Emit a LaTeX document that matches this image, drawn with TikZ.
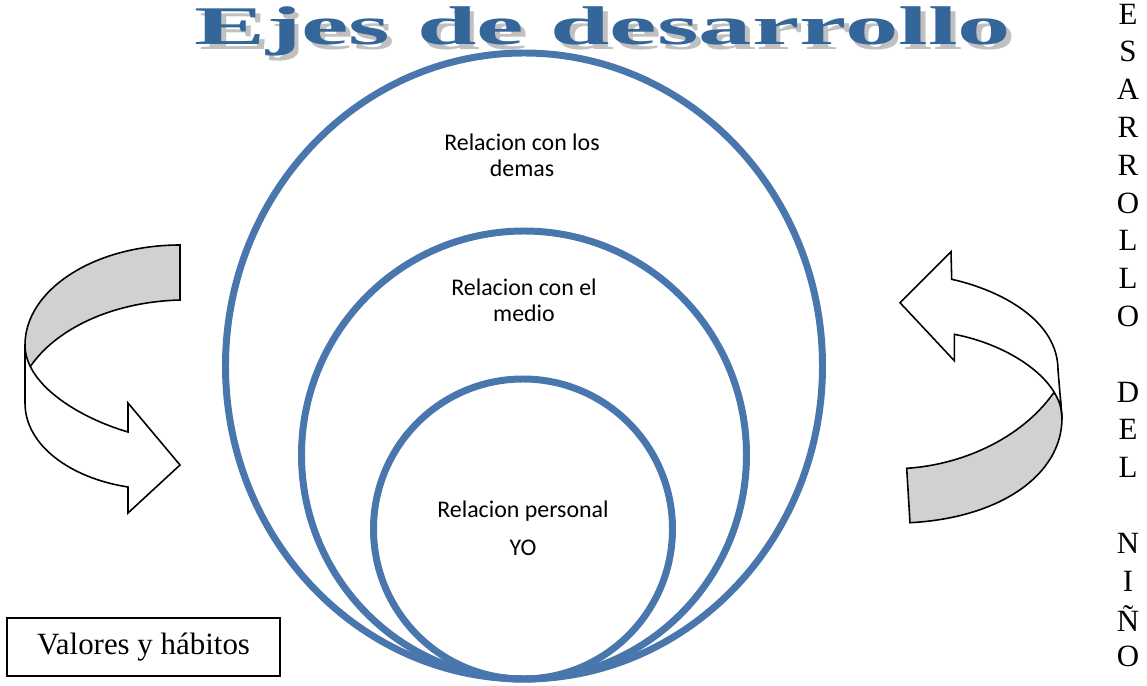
\documentclass[tikz,border=0pt]{standalone}
\usepackage{fontspec}
\setmainfont{Liberation Serif}
\newfontfamily\calibri{Carlito}

\definecolor{azulanillo}{RGB}{74,118,174}
\definecolor{azultitulo}{RGB}{52,102,153}
\definecolor{grissombra}{RGB}{192,192,192}
\definecolor{griscinta}{RGB}{209,209,209}

\begin{document}
\begin{tikzpicture}[x=0.02cm, y=-0.02cm,
    anillo/.style={draw=azulanillo, line width=3.97pt},
    rotulo/.style={font=\calibri\fontsize{13.6}{14.8}\selectfont, align=center, inner sep=0pt},
    letra/.style={font=\fontsize{17.6}{20}\selectfont, inner sep=0pt},
    cinta/.style={draw=black, line width=0.9pt, line join=miter},
    titulo/.style={font=\bfseries\fontsize{31}{33}\selectfont, inner sep=0pt}]
    \useasboundingbox (0,0) rectangle (1147,686);

    % Titulo con sombra
    \node[titulo] (titulo) at (603,34) {\scalebox{1.96}[1]{\rlap{\kern1.4pt\raisebox{-2.8pt}{\color{grissombra}Ejes de desarrollo}}\color{azultitulo}Ejes de desarrollo}};

    % Anillos
    \draw[anillo] (524,366) ellipse (298.5 and 313);
    \draw[anillo] (524,455) ellipse (222.5 and 224);
    \draw[anillo] (523,529) ellipse (149.5 and 150);

    % Textos de los anillos
    \node[rotulo] (demas) at (522,155) {Relacion con los\\demas};
    \node[rotulo] (medio) at (524,300) {Relacion con el\\medio};
    \node[rotulo] (personal) at (523,511) {Relacion personal};
    \node[rotulo] (yo) at (523,548) {YO};

    % Flecha izquierda
    \draw[cinta, fill=griscinta] (180,245) .. controls (94,245) and (25,290) .. (25,345)
        -- (25,370) -- (30,367) .. controls (55,330) and (110,302) .. (180,300) -- cycle;
    \draw[cinta, fill=white] (25,345) -- (25,403) .. controls (25,445) and (70,478) .. (128,487)
        -- (128,513) -- (180,465) -- (128,403) -- (128,432)
        .. controls (80,418) and (25,385) .. (25,345) -- cycle;

    % Flecha derecha
    \draw[cinta, fill=griscinta] (906.7,468.3) -- (910,522.7) .. controls (1000,518) and (1062,475) .. (1062,418)
        -- (1060,395) -- (1053.3,393.3) .. controls (1020,440) and (960,465) .. (906.7,468.3) -- cycle;
    \draw[cinta, fill=white] (954.3,334.3) .. controls (1010,345) and (1062,380) .. (1062,418)
        -- (1058,370) .. controls (1058,320) and (1000,290) .. (951.7,279.3)
        -- (951,251.7) -- (900,302.7) -- (954.3,360.7) -- cycle;

    % Caja
    \node[draw, line width=0.85pt, minimum width=5.46cm, minimum height=1.16cm,
        font=\fontsize{17.6}{20}\selectfont] (valores) at (143.5,647) {Valores y hábitos};

    % Texto vertical
    \foreach \l/\i in {E/0,S/1,A/2,R/3,R/4,O/5,L/6,L/7,O/8,D/10,E/11,L/12,N/14,I/15,Ñ/16,O/17}
        \node[letra] (letra\i) at (1128,{14+37.8*\i}) {\l};
\end{tikzpicture}
\end{document}
